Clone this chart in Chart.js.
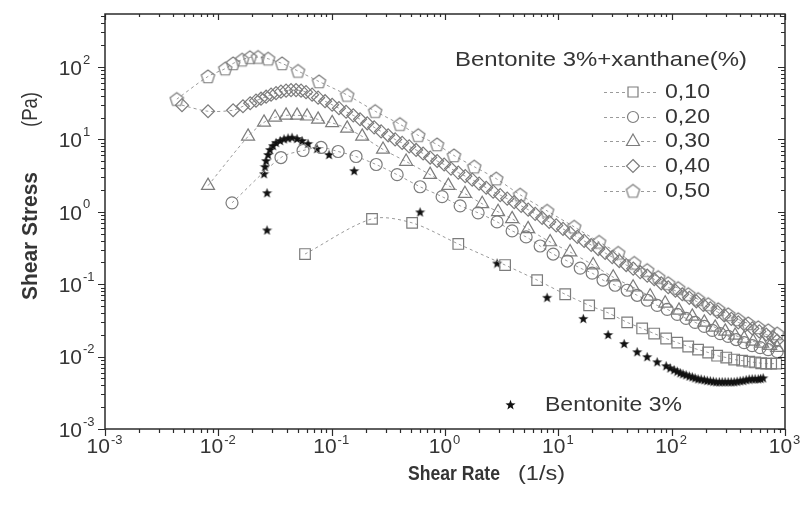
<!DOCTYPE html>
<html>
<head>
<meta charset="utf-8">
<title>Shear stress vs shear rate</title>
<script src="https://cdn.jsdelivr.net/npm/chart.js"></script>
<style>
  html, body { margin: 0; padding: 0; background: #fff; }
  #chart { display: block; }
</style>
</head>
<body>
<canvas id="chart" width="805" height="516"></canvas>
<script>
// Shear rate (1/s) and shear stress (Pa)

// Bentonite 3% + xanthane 0,10 %
const rate010 = [0.0582, 0.227, 0.513, 1.31, 3.39, 6.50, 11.5, 18.7, 28.1, 40.5, 54.9, 70.1, 89.4, 112, 140, 171, 210, 252, 303, 356, 419, 483, 546, 617, 682, 755, 836];
const stress010 = [0.261, 0.80, 0.703, 0.36, 0.184, 0.114, 0.0726, 0.051, 0.0396, 0.0297, 0.0245, 0.0208, 0.0178, 0.0156, 0.0138, 0.0125, 0.0114, 0.0103, 0.0097, 0.0091, 0.0088, 0.0085, 0.0083, 0.0081, 0.0080, 0.0080, 0.0080];

// 0,20 %
const rate020 = [0.0132, 0.0357, 0.0559, 0.0806, 0.114, 0.164, 0.247, 0.378, 0.603, 0.943, 1.36, 1.96, 2.88, 3.91, 5.20, 6.91, 9.0, 12.0, 15.6, 19.9, 24.8, 31.7, 40.5, 49.6, 60.8, 74.5, 91.3, 112, 134, 161, 194, 228, 268, 315, 371, 436, 513, 604, 711, 853];
const stress020 = [1.33, 5.62, 7.03, 7.74, 6.81, 5.81, 4.5, 3.26, 2.22, 1.62, 1.21, 0.968, 0.726, 0.545, 0.45, 0.337, 0.261, 0.209, 0.167, 0.142, 0.114, 0.0968, 0.0825, 0.0703, 0.060, 0.051, 0.045, 0.0383, 0.0337, 0.0297, 0.0261, 0.023, 0.0208, 0.019, 0.0172, 0.0156, 0.0142, 0.0133, 0.0125, 0.0117];

// 0,30 %
const rate030 = [0.00811, 0.0183, 0.0253, 0.0317, 0.0396, 0.0495, 0.0607, 0.0759, 0.101, 0.137, 0.186, 0.284, 0.454, 0.739, 1.07, 1.50, 2.13, 2.94, 3.91, 5.41, 8.47, 12.7, 20.3, 30.5, 45.7, 64.6, 87.7, 116, 152, 194, 242, 297, 363, 436, 524, 629, 740, 853];
const stress030 = [2.30, 11.0, 17.2, 20.2, 21.5, 21.5, 20.9, 18.9, 16.9, 14.2, 11.0, 7.27, 4.95, 3.26, 2.30, 1.78, 1.29, 1.0, 0.80, 0.581, 0.383, 0.278, 0.184, 0.125, 0.0908, 0.0681, 0.0545, 0.0435, 0.0359, 0.0297, 0.0253, 0.0223, 0.0196, 0.0178, 0.0162, 0.0152, 0.0142, 0.0133];

// 0,40 %
const rate040 = [0.00478, 0.00811, 0.0135, 0.0165, 0.0191, 0.0215, 0.0238, 0.0264, 0.0292, 0.0323, 0.0357, 0.0396, 0.0438, 0.0485, 0.0537, 0.0594, 0.0672,
  0.0759, 0.0875, 0.101, 0.116, 0.134, 0.155, 0.178, 0.206, 0.237, 0.273, 0.315, 0.363, 0.419, 0.483, 0.556, 0.641, 0.740, 0.853, 0.983, 1.13, 1.31, 1.51, 1.74, 2.00,
  2.31, 2.66, 3.07, 3.54, 4.08, 4.70, 5.42, 6.25, 7.20, 8.31, 9.58, 11.0, 12.7, 14.7, 16.9, 19.5, 22.5, 25.9, 29.9, 34.5, 39.7, 45.8, 52.8, 60.9, 70.2, 80.9,
  93.3, 108, 124, 143, 165, 190, 219, 253, 291, 336, 387, 446, 515, 593, 684, 788, 853];
const stress040 = [29.7, 24.5, 25.3, 28.7, 31.6, 34.3, 36.5, 38.9, 41.5, 43.5, 45.7, 47.2, 48, 48, 47.2, 45, 41.5,
  37.7, 33.7, 30.1, 27, 24.1, 21.5, 19, 16.7, 14.7, 12.9, 11.4, 10, 8.94, 8.0, 7.15, 6.39, 5.62, 5.03, 4.5, 3.95, 3.48, 3.11, 2.78, 2.45,
  2.15, 1.90, 1.70, 1.52, 1.36, 1.21, 1.07, 0.938, 0.826, 0.726, 0.649, 0.581, 0.511, 0.45, 0.396, 0.348, 0.306, 0.27, 0.237, 0.209, 0.184, 0.164, 0.147, 0.131, 0.117, 0.103,
  0.0908, 0.0812, 0.0726, 0.0649, 0.0581, 0.0519, 0.0464, 0.0415, 0.0371, 0.0332, 0.0297, 0.027, 0.0245, 0.0223, 0.0202, 0.0184, 0.0167];

// 0,50 %
const rate050 = [0.0043, 0.0081, 0.0115, 0.0135, 0.0162, 0.019, 0.0224, 0.0275, 0.0365, 0.0505, 0.0774, 0.137, 0.242, 0.40, 0.58, 0.85, 1.20, 1.81, 2.83, 4.6, 7.96, 13.8, 22.9, 33.7, 46.7, 60.8, 76, 93, 114, 140, 171, 210, 257, 315, 386, 473, 580, 711, 853];
const stress050 = [36, 74, 95, 112, 126, 136, 137, 130, 112, 88, 63, 41, 24.5, 16.2, 11.4, 8.5, 6.0, 4.2, 2.87, 1.72, 1.03, 0.62, 0.383, 0.27, 0.196, 0.156, 0.125, 0.103, 0.088, 0.0726, 0.062, 0.0528, 0.045, 0.0383, 0.0327, 0.0287, 0.0253, 0.023, 0.0208];

// Bentonite 3% alone
const rateBent = [0.0269, 0.0269, 0.0253, 0.0258, 0.0264, 0.0275, 0.0286, 0.0304, 0.0323, 0.0351, 0.038, 0.0412, 0.0447, 0.0495, 0.0548, 0.0619, 0.0743, 0.0948, 0.158, 0.603, 2.88, 7.96, 16.6, 27.5, 38.1, 49.6, 60.8, 74.5, 89.4,
  97, 105, 112, 119, 126, 134, 143, 152, 161, 171, 182, 194, 206, 219, 233, 247, 263, 279, 296, 315, 335, 356, 378, 402, 427, 454, 483, 513, 545, 580, 610, 642];
const stressBent = [0.562, 1.84, 3.37, 4.22, 5.11, 6.19, 7.27, 8.25, 9.09, 9.68, 10.2, 10.5, 10.7, 10.3, 9.68, 8.8, 7.5, 6.19, 3.71, 1.0, 0.196, 0.066, 0.0337, 0.0202, 0.0152, 0.0117, 0.010, 0.0085, 0.0075,
  0.0070, 0.0066, 0.0063, 0.0060, 0.0058, 0.00562, 0.0054, 0.00527, 0.0051, 0.00494, 0.0049, 0.0048, 0.0047, 0.00464, 0.00457, 0.0045, 0.0045, 0.0045, 0.0045, 0.0045, 0.0045, 0.0045, 0.00457, 0.00464, 0.0047, 0.0048, 0.0049, 0.00494, 0.00494, 0.00494, 0.0050, 0.0051];

const xTickExponents = [-3, -2, -1, 0, 1, 2, 3];
const yTickExponents = [-3, -2, -1, 0, 1, 2];
const legendTitle = 'Bentonite 3%+xanthane(%)';
const legendLabels = ['0,10', '0,20', '0,30', '0,40', '0,50'];
const bentLabel = 'Bentonite 3%';

const markerGray = '#7c7c7c';
const lineGray = '#9a9a9a';
const textColor = '#353535';
const axisColor = '#2b2b2b';
const FONT = "'Liberation Sans', Arial, sans-serif";

// small canvases used as point styles (Chart.js has no pentagon or filled star)
function makeMarker(size, draw) {
    const c = document.createElement('canvas');
    c.width = size;
    c.height = size;
    draw(c.getContext('2d'), size);
    return c;
}

const pentagonImg = makeMarker(17, (g, s) => {
    g.beginPath();
    for (let i = 0; i < 5; i++) {
        const a = -Math.PI / 2 + i * 2 * Math.PI / 5;
        const px = s / 2 + 7 * Math.cos(a);
        const py = s / 2 + 0.6 + 7 * Math.sin(a);
        if (i) g.lineTo(px, py); else g.moveTo(px, py);
    }
    g.closePath();
    g.strokeStyle = markerGray;
    g.lineWidth = 1.2;
    g.stroke();
});

const starImg = makeMarker(11, (g, s) => {
    g.beginPath();
    for (let i = 0; i < 10; i++) {
        const r = i % 2 ? 2.2 : 5.3;
        const a = -Math.PI / 2 + i * Math.PI / 5;
        const px = s / 2 + r * Math.cos(a);
        const py = s / 2 + 0.6 + r * Math.sin(a);
        if (i) g.lineTo(px, py); else g.moveTo(px, py);
    }
    g.closePath();
    g.fillStyle = '#111';
    g.fill();
});

const markerStyles = [
    { style: 'rect', radius: 7.5 },
    { style: 'circle', radius: 6 },
    { style: 'triangle', radius: 7.5 },
    { style: 'rectRot', radius: 6.5 },
    { style: pentagonImg, radius: 7 }
];

function points(xs, ys) {
    return xs.map((x, i) => ({ x: x, y: ys[i] }));
}

function xanthanSet(label, xs, ys, m) {
    return {
        label: label,
        data: points(xs, ys),
        showLine: true,
        tension: 0.3,
        borderColor: lineGray,
        borderWidth: 1,
        borderDash: [3, 3],
        pointStyle: m.style,
        pointRadius: m.radius,
        pointBorderColor: markerGray,
        pointBackgroundColor: 'rgba(0,0,0,0)',
        pointBorderWidth: 1.2
    };
}

const datasets = [
    xanthanSet(legendLabels[0], rate010, stress010, markerStyles[0]),
    xanthanSet(legendLabels[1], rate020, stress020, markerStyles[1]),
    xanthanSet(legendLabels[2], rate030, stress030, markerStyles[2]),
    xanthanSet(legendLabels[3], rate040, stress040, markerStyles[3]),
    xanthanSet(legendLabels[4], rate050, stress050, markerStyles[4]),
    {
        label: bentLabel,
        data: points(rateBent, stressBent),
        showLine: false,
        pointStyle: starImg,
        pointRadius: 5
    }
];

// text squeezed/stretched to the width it has in the picture
function fitText(ctx, text, x, y, width, font) {
    ctx.save();
    ctx.font = font;
    const w = ctx.measureText(text).width;
    ctx.translate(x, y);
    ctx.scale(width / w, 1);
    ctx.textAlign = 'left';
    ctx.textBaseline = 'middle';
    ctx.fillText(text, 0, 0);
    ctx.restore();
}

function fitTextUp(ctx, text, x, yBottom, height, font) {
    ctx.save();
    ctx.font = font;
    const w = ctx.measureText(text).width;
    ctx.translate(x, yBottom);
    ctx.rotate(-Math.PI / 2);
    ctx.scale(height / w, 1);
    ctx.textAlign = 'left';
    ctx.textBaseline = 'middle';
    ctx.fillText(text, 0, 0);
    ctx.restore();
}

function drawLegendMarker(ctx, i, x, y) {
    ctx.save();
    ctx.strokeStyle = markerGray;
    ctx.lineWidth = 1.2;
    ctx.setLineDash([]);
    ctx.beginPath();
    if (i === 0) {
        ctx.rect(x - 5, y - 5, 10, 10);
    } else if (i === 1) {
        ctx.arc(x, y, 5.5, 0, Math.PI * 2);
    } else if (i === 2) {
        ctx.moveTo(x, y - 7);
        ctx.lineTo(x + 6.5, y + 4.5);
        ctx.lineTo(x - 6.5, y + 4.5);
        ctx.closePath();
    } else if (i === 3) {
        ctx.moveTo(x, y - 6.5);
        ctx.lineTo(x + 6.5, y);
        ctx.lineTo(x, y + 6.5);
        ctx.lineTo(x - 6.5, y);
        ctx.closePath();
    }
    ctx.stroke();
    if (i === 4) ctx.drawImage(pentagonImg, x - 8.5, y - 8.5);
    ctx.restore();
}

const decorations = {
    id: 'decorations',
    afterDraw(chart) {
        const ctx = chart.ctx;
        const a = chart.chartArea;
        const xs = chart.scales.x;
        const ys = chart.scales.y;

        ctx.save();
        // frame
        ctx.strokeStyle = axisColor;
        ctx.lineWidth = 1.5;
        ctx.strokeRect(a.left, a.top, a.right - a.left, a.bottom - a.top);

        // major + minor log ticks
        ctx.lineWidth = 1.2;
        ctx.beginPath();
        for (let e = -3; e <= 3; e++) {
            for (let m = 1; m <= 9; m++) {
                const v = m * Math.pow(10, e);
                if (v < 0.001 * 0.999 || v > 1000 * 1.001) continue;
                const px = Math.round(xs.getPixelForValue(v)) + 0.5;
                const len = m === 1 ? 7 : 4;
                ctx.moveTo(px, a.bottom);
                ctx.lineTo(px, a.bottom + len);
                ctx.moveTo(px, a.top);
                ctx.lineTo(px, a.top + len - 1);
            }
        }
        for (let e = -3; e <= 2; e++) {
            for (let m = 1; m <= 9; m++) {
                const v = m * Math.pow(10, e);
                if (v < 0.001 * 0.999 || v > ys.max) continue;
                const py = Math.round(ys.getPixelForValue(v)) + 0.5;
                const len = m === 1 ? 7 : 4;
                ctx.moveTo(a.left, py);
                ctx.lineTo(a.left - len, py);
                ctx.moveTo(a.right, py);
                ctx.lineTo(a.right - len, py);
            }
        }
        ctx.stroke();

        // tick labels 10^n
        ctx.fillStyle = textColor;
        ctx.textBaseline = 'middle';
        const big = '21px ' + FONT;
        const small = '13px ' + FONT;
        xTickExponents.forEach(e => {
            const px = xs.getPixelForValue(Math.pow(10, e));
            ctx.font = big;
            const wb = ctx.measureText('10').width;
            ctx.font = small;
            const we = ctx.measureText(String(e)).width;
            const left = px - (wb + we) / 2 - 1;
            ctx.font = big;
            ctx.textAlign = 'left';
            ctx.fillText('10', left, a.bottom + 18);
            ctx.font = small;
            ctx.fillText(String(e), left + wb + 1, a.bottom + 11);
        });
        yTickExponents.forEach(e => {
            const py = ys.getPixelForValue(Math.pow(10, e));
            const right = a.left - 23;
            ctx.font = big;
            ctx.textAlign = 'right';
            ctx.fillText('10', right, py + 2);
            ctx.font = small;
            ctx.textAlign = 'left';
            ctx.fillText(String(e), right + 1, py - 7);
        });

        // axis titles
        fitText(ctx, 'Shear Rate', 408, 474, 92, 'bold 21px ' + FONT);
        fitText(ctx, '(1/s)', 518, 474, 47, '21px ' + FONT);
        fitTextUp(ctx, 'Shear Stress', 31, 300, 128, 'bold 22px ' + FONT);
        fitTextUp(ctx, '(Pa)', 31, 127, 35, '22px ' + FONT);

        // legend
        fitText(ctx, legendTitle, 455, 60, 292, '21px ' + FONT);
        const rowY = [92, 117, 141, 166, 191];
        legendLabels.forEach((lab, i) => {
            const y = rowY[i];
            ctx.save();
            ctx.strokeStyle = lineGray;
            ctx.lineWidth = 1;
            ctx.setLineDash([3, 3]);
            ctx.beginPath();
            ctx.moveTo(604, y + 0.5);
            ctx.lineTo(626, y + 0.5);
            ctx.moveTo(641, y + 0.5);
            ctx.lineTo(658, y + 0.5);
            ctx.stroke();
            ctx.restore();
            drawLegendMarker(ctx, i, 633, y);
            fitText(ctx, lab, 665, y, 45, '21px ' + FONT);
        });
        ctx.drawImage(starImg, 505, 399);
        fitText(ctx, bentLabel, 545, 405, 137, '21px ' + FONT);
        ctx.restore();
    }
};

new Chart(document.getElementById('chart'), {
    type: 'scatter',
    data: { datasets: datasets },
    options: {
        responsive: false,
        animation: false,
        layout: { padding: { left: 105, right: 20, top: 14, bottom: 87 } },
        plugins: {
            legend: { display: false },
            tooltip: { enabled: false }
        },
        scales: {
            x: { type: 'logarithmic', min: 0.001, max: 1000, display: false },
            y: { type: 'logarithmic', min: 0.001, max: 540, display: false }
        }
    },
    plugins: [decorations]
});
</script>
</body>
</html>
